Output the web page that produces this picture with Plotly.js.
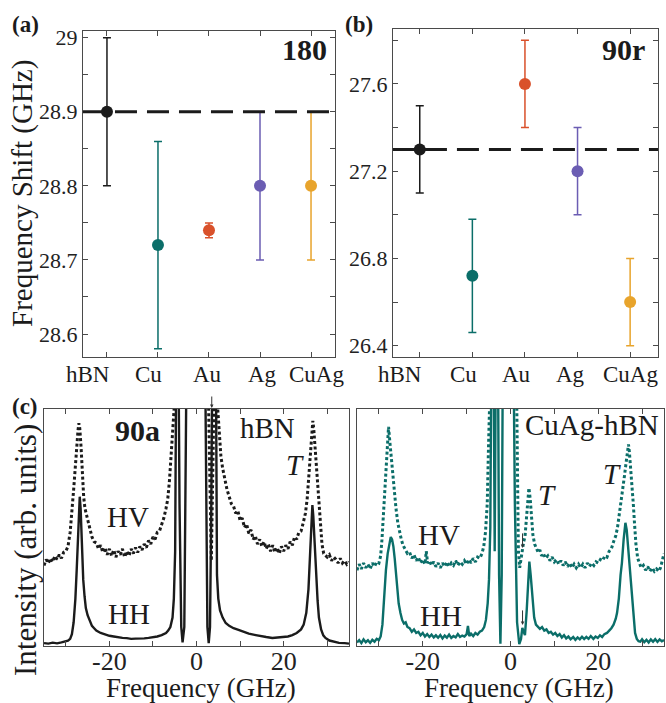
<!DOCTYPE html>
<html>
<head>
<meta charset="utf-8">
<script src="https://cdn.plot.ly/plotly-3.0.1.min.js"></script>
<style>html,body{margin:0;padding:0;background:#fff;}#chart{width:666px;height:703px;}</style>
</head>
<body>
<div id="chart"></div>
<script>
// ---------- data ----------
const categories = ['hBN', 'Cu', 'Au', 'Ag', 'CuAg'];
const shift180 = [28.9, 28.72, 28.74, 28.8, 28.8];
const err180 = [0.1, 0.14, 0.01, 0.1, 0.1];
const shift90r = [27.3, 26.72, 27.6, 27.2, 26.6];
const err90r = [0.2, 0.26, 0.2, 0.2, 0.2];
const ref180 = 28.9;
const ref90r = 27.3;

const freqTickVals = [-30, -20, -10, 0, 10, 20, 30];
const freqTickText = ['', '-20', '', '0', '', '20', ''];

// hBN, 90a geometry, HV polarisation: [frequency GHz, intensity arb.]
const hbnHV = [[-35,34],[-34.5,36.5],[-34,35],[-33.5,37],[-33,35.5],[-32.5,38],[-32,36.5],[-31.5,38.5],[-31,37],[-30.5,39.5],[-30,40],[-29.5,42],[-29,48],[-28.6,56],[-28.2,66],[-27.8,76],[-27.5,85],[-27.2,91],[-27,94],[-26.8,92],[-26.5,84],[-26.2,70],[-25.9,63],[-25.6,58],[-25.2,55],[-24.8,51],[-24.4,48.5],[-24,46],[-23.5,44],[-23,43.5],[-22.5,41],[-22,42.5],[-21.5,39.5],[-21,41.5],[-20.5,38.5],[-20,41],[-19.5,38],[-19,40.5],[-18.5,37.5],[-18,40],[-17.5,38.5],[-17,41],[-16.5,37.5],[-16,40],[-15.5,38],[-15,41],[-14.5,39],[-14,41.5],[-13.5,39.5],[-13,42],[-12.5,40.5],[-12,43],[-11.5,41.5],[-11,44.5],[-10.5,43],[-10,46],[-9.5,45],[-9,48],[-8.5,48.5],[-8,51],[-7.5,54],[-7,58],[-6.6,62],[-6.2,70],[-5.8,80],[-5.4,92],[-5,104],[-4.6,140],[-4.0,140],[-3.6,140],[-3.4,null],
[2.2,null],[2.4,140],[3.0,80],[3.4,36],[3.8,80],[4.3,140],[4.8,102],[5.2,90],[5.6,80],[6,75],[6.5,70],[7,66],[7.5,63],[8,60],[8.5,59],[9,56],[9.5,57],[10,53],[10.5,54],[11,50],[11.5,51.5],[12,47.5],[12.5,49],[13,45],[13.5,46.5],[14,43],[14.5,45],[15,42],[15.5,44],[16,41],[16.5,43],[17,40],[17.5,42.5],[18,39.5],[18.5,41.5],[19,39],[19.5,42],[20,40],[20.5,42.5],[21,41],[21.5,44],[22,42.5],[22.5,46],[23,45],[23.5,48],[24,48.5],[24.5,52],[25,56],[25.4,62],[25.8,72],[26.2,83],[26.5,92],[26.7,95],[26.9,92],[27.2,84],[27.6,72],[28,62],[28.4,52],[28.8,43],[29.2,39],[29.6,38],[30,37.5],[30.5,38.5],[31,36],[31.5,37.5],[32,36.5],[32.5,35],[33,37],[33.5,35],[34,36],[34.5,34.5],[35,35.5]];

// hBN, HH polarisation
const hbnHH = [[-35,1.2],[-34,1.0],[-33,1.4],[-32,1.1],[-31,1.5],[-30,1.8],[-29.5,2.2],[-29,3],[-28.6,5],[-28.2,10],[-27.8,20],[-27.5,32],[-27.2,46],[-27,56],[-26.8,63],[-26.6,58],[-26.4,46],[-26.2,36],[-26,28],[-25.7,21],[-25.4,16],[-25,13],[-24.5,10.5],[-24,8.5],[-23.5,7.5],[-23,6.5],[-22,5.5],[-21,4.8],[-20,4.3],[-19,4],[-18,3.6],[-17,3.4],[-16,3.3],[-15,3.0],[-14,3.1],[-13,3.0],[-12,3.2],[-11,3.4],[-10,3.6],[-9,4],[-8,4.6],[-7,5.5],[-6.5,6.5],[-6,8],[-5.5,12],[-5.2,20],[-4.9,40],[-4.6,140],[-4.2,140],[-3.9,60],[-3.5,8],[-3.2,1.5],[-2.8,8],[-2.5,60],[-2.2,140],[-2.0,null],
[1.7,null],[1.9,140],[2.2,60],[2.5,8],[2.8,1.2],[3.1,8],[3.4,60],[3.7,140],[4.4,140],[4.7,30],[5.0,20],[5.4,15],[6,12],[6.7,9.7],[7.5,8.5],[8.5,7.5],[9.8,6.7],[11,5.8],[12,5.2],[13.6,4.6],[15,4],[16,3.8],[17.4,3.4],[18.5,3.6],[19.5,3.8],[21,4],[22,4.6],[23,5.5],[24,7],[24.6,9],[25.2,14],[25.7,24],[26.1,40],[26.4,54],[26.6,59.5],[26.8,55],[27.1,42],[27.4,30],[27.8,19],[28.1,12],[28.6,7],[29.1,4.5],[29.6,3.4],[30.5,2.3],[31.5,1.8],[32.7,1.3],[34,1.2],[35,1.0]];

// CuAg-hBN, HV polarisation
const cuagHV = [[-35,32],[-34.5,34.5],[-34,32.5],[-33.5,35],[-33,33],[-32.5,34.5],[-32,32.5],[-31.5,35],[-31,33.5],[-30.5,35.5],[-30,35],[-29.6,38],[-29.3,45],[-29,55],[-28.7,66],[-28.4,77],[-28.1,87],[-27.8,92.5],[-27.5,86],[-27.2,80],[-26.9,72],[-26.5,63],[-26.1,58],[-25.7,52],[-25.3,48],[-24.9,45],[-24.5,42.5],[-24,41],[-23.5,39],[-23,39.5],[-22.5,37],[-22,38.5],[-21.5,36],[-21,37.5],[-20.5,35],[-20,36.5],[-19.5,34.5],[-19.2,40],[-18.9,35],[-18.5,36],[-18,34],[-17.5,35.5],[-17,33.5],[-16.5,35],[-16,33],[-15.5,35],[-15,33.5],[-14.5,35.5],[-14,33.5],[-13.5,35],[-13,34],[-12.5,36],[-12,34],[-11.5,35.5],[-11,34.5],[-10.5,36],[-10,34.5],[-9.5,36.5],[-9,35],[-8.5,37],[-8,35.5],[-7.5,37.5],[-7,37],[-6.5,39],[-6.1,42],[-5.7,48],[-5.3,60],[-5.0,85],[-4.7,140],[-4.2,140],[-4.0,null],
[1.0,null],[1.2,140],[1.5,80],[1.8,40],[2.1,33],[2.4,37],[2.7,40],[3.0,44],[3.3,46],[3.6,54],[3.9,62],[4.2,66.7],[4.5,62],[4.8,53],[5.1,47],[5.5,43],[5.9,41],[6.3,39.5],[6.7,40.5],[7.1,38],[7.5,39],[8,37],[8.5,38],[9,36],[9.5,37.5],[10,35.5],[10.5,36.5],[11,34.5],[11.5,36],[12,34],[12.5,35.5],[13,33.5],[13.5,35],[14,33],[14.5,34.5],[15,33],[15.5,34.5],[16,33],[16.5,34.5],[17,33],[17.5,35],[18,33.5],[18.5,35],[19,34],[19.5,35.5],[20,35],[20.5,36.5],[21,36],[21.5,38],[22,37.5],[22.5,40],[23,41],[23.5,44],[24,46.5],[24.4,50],[24.8,55],[25.2,60],[25.6,66],[26,72],[26.4,78],[26.7,83],[26.9,85],[27.1,82],[27.4,75],[27.7,70],[28,60],[28.3,51],[28.6,43],[29,37],[29.4,34.5],[29.8,33],[30.3,34],[30.8,32],[31.3,33.5],[31.8,31.5],[32.3,33],[32.8,31.5],[33.3,32.5],[33.8,31.5],[34.2,33],[34.6,36],[35,39]];

// CuAg-hBN, HH polarisation
const cuagHH = [[-35,1.5],[-34.5,2.5],[-34,1.2],[-33.5,2.8],[-33,1.6],[-32.5,2.4],[-32,1.3],[-31.5,2.6],[-31,1.8],[-30.5,3],[-30,2.5],[-29.6,4],[-29.2,9],[-28.8,21],[-28.4,32],[-28,39],[-27.6,44],[-27.3,46],[-27,45],[-26.7,42],[-26.4,37],[-26.1,31],[-25.8,24],[-25.5,18],[-25.1,14],[-24.7,11],[-24.3,9.5],[-23.9,10],[-23.5,8],[-23,7.5],[-22.5,6],[-22,7],[-21.5,5.5],[-21,6],[-20.5,4.5],[-20,5.5],[-19.5,4],[-19,5],[-18.5,3.8],[-18,4.8],[-17.5,3.6],[-17,4.5],[-16.5,3.5],[-16,4.6],[-15.5,3.2],[-15,4.4],[-14.5,3.5],[-14,4.8],[-13.5,3.4],[-13,4.2],[-12.5,3.6],[-12,5],[-11.5,3.8],[-11,4.4],[-10.5,4],[-10,5],[-9.7,8.5],[-9.4,4.2],[-9,5.2],[-8.5,4.2],[-8,5.5],[-7.5,4.8],[-7,6],[-6.5,6.5],[-6,8],[-5.6,11],[-5.2,18],[-4.9,28],[-4.6,50],[-4.3,140],[-3.9,140],[-3.6,40],[-3.3,140],[-2.9,140],[-2.6,30],[-2.3,1],[-2.0,30],[-1.7,140],[-1.5,null],
[0.4,null],[0.6,140],[1.0,60],[1.5,10],[2.0,0.8],[2.4,3],[2.7,7.6],[3.0,6],[3.3,4.6],[3.7,15],[4.0,27],[4.3,35.6],[4.6,30],[5.0,21],[5.4,12],[5.8,9],[6.3,8],[6.7,7.2],[7.2,8],[7.7,6.5],[8.2,7],[8.7,5.5],[9.2,6],[9.7,4.8],[10.2,5.5],[10.7,4.2],[11.2,5],[11.7,3.6],[12.2,4.6],[12.7,3.2],[13.2,4],[13.7,2.8],[14.3,3.8],[14.8,2.6],[15.3,3.6],[15.8,2.8],[16.3,3.9],[16.8,2.9],[17.3,3.8],[17.8,3],[18.3,4.2],[18.9,3],[19.4,4],[19.9,3.4],[20.4,4.5],[20.9,3.8],[21.4,5],[22,5.5],[22.5,6.5],[23,7.5],[23.5,9],[24,11.5],[24.3,14],[24.7,20],[25.1,30],[25.4,35],[25.8,45],[26.2,52],[26.5,49],[26.9,39],[27.3,30],[27.7,21],[28.1,12],[28.4,5.5],[28.8,3],[29.2,2],[29.6,1.8],[30,2.8],[30.5,1.6],[31,2.6],[31.5,1.5],[32,2.8],[32.5,1.8],[33,2.9],[33.5,1.7],[34,2.8],[34.5,2],[35,2.5]];

// ---------- styles ----------
const catColors = ['#1b1b1b', '#0b6e69', '#d9512b', '#6b5db3', '#e8a42c'];
const teal = '#0b6e69';
const ink = '#1b1b1b';
const frame = '#4a4a4a';
const FONT = 'Liberation Serif, Times New Roman, serif';

const traces = [];
categories.forEach((c, i) => {
  traces.push({
    type: 'scatter', mode: 'markers', x: [c], y: [shift180[i]],
    xaxis: 'x', yaxis: 'y',
    marker: {size: 12, color: catColors[i]},
    error_y: {type: 'data', array: [err180[i]], color: catColors[i], thickness: 1.5, width: 4},
    hoverinfo: 'skip'
  });
  traces.push({
    type: 'scatter', mode: 'markers', x: [c], y: [shift90r[i]],
    xaxis: 'x2', yaxis: 'y2',
    marker: {size: 12, color: catColors[i]},
    error_y: {type: 'data', array: [err90r[i]], color: catColors[i], thickness: 1.5, width: 4},
    hoverinfo: 'skip'
  });
});

function spec(arr, xa, ya, color, dotted) {
  return {
    type: 'scatter', mode: 'lines',
    x: arr.map(p => p[0]), y: arr.map(p => p[1]),
    xaxis: xa, yaxis: ya, connectgaps: false,
    line: {color: color, width: dotted ? 3 : 2.4, dash: dotted ? '3px,2.5px' : 'solid'},
    hoverinfo: 'skip'
  };
}
traces.push(spec(hbnHV, 'x3', 'y3', ink, true));
traces.push(spec(hbnHH, 'x3', 'y3', ink, false));
traces.push(spec(cuagHV, 'x4', 'y4', teal, true));
traces.push(spec(cuagHH, 'x4', 'y4', teal, false));

const baseAxis = {
  showline: true, linecolor: frame, linewidth: 1, mirror: 'ticks',
  ticks: 'inside', ticklen: 5, tickcolor: frame, tickwidth: 1,
  showgrid: false, zeroline: false, fixedrange: true,
  tickfont: {family: FONT, size: 22, color: '#222'}
};
const ax = (o) => Object.assign({}, baseAxis, o);

function txt(text, x, y, size, opts) {
  return Object.assign({
    text: text, x: x, y: y, xref: 'paper', yref: 'paper',
    xanchor: 'center', yanchor: 'middle', showarrow: false,
    font: {family: FONT, size: size, color: '#1b1b1b'}
  }, opts || {});
}
const W = 666, H = 703;
const px = (x) => x / W, py = (y) => 1 - y / H;

// category labels as placed in the original figure (slightly off the ticks)
const labelPxA = [88, 148, 207, 262, 316];
const labelPxB = [400, 463, 516, 570, 630];

const annotations = [
  txt('<b>(a)</b>', px(25), py(25), 23),
  txt('<b>(b)</b>', px(359), py(25), 23),
  txt('<b>(c)</b>', px(25), py(406), 23),
  txt('<b>180</b>', px(304), py(50), 30),
  txt('<b>90r</b>', px(623), py(50), 30),
  txt('<b>90a</b>', px(137), py(430), 30),
  txt('hBN', px(267), py(428), 29),
  txt('<i>T</i>', px(295), py(465), 29),
  txt('HV', px(128), py(517), 29),
  txt('HH', px(129), py(614), 29),
  txt('CuAg-hBN', px(592), py(425), 29),
  txt('<i>T</i>', px(547), py(495), 29),
  txt('<i>T</i>', px(612), py(474), 29),
  txt('HV', px(439), py(535), 29),
  txt('HH', px(441), py(616), 29),
  txt('Frequency Shift (GHz)', px(23), py(194), 29, {textangle: -90}),
  txt('Intensity (arb. units)', px(25), py(550), 31, {textangle: -90}),
  txt('Frequency (GHz)', px(201), py(688), 27),
  txt('Frequency (GHz)', px(519), py(688), 27),
  {x: 3.5, y: py(408), xref: 'x3', yref: 'paper', text: '', showarrow: true,
   ax: 0, ay: -13, arrowhead: 2, arrowsize: 0.7, arrowwidth: 1, arrowcolor: '#333'},
  {x: 2.75, y: 41.4, xref: 'x4', yref: 'y4', text: '', showarrow: true,
   ax: 0, ay: -16, arrowhead: 2, arrowsize: 0.7, arrowwidth: 1, arrowcolor: '#333'},
  {x: 2.75, y: 8.9, xref: 'x4', yref: 'y4', text: '', showarrow: true,
   ax: 0, ay: -16, arrowhead: 2, arrowsize: 0.7, arrowwidth: 1, arrowcolor: '#333'}
];
categories.forEach((c, i) => {
  annotations.push(txt(c, px(labelPxA[i]), py(374), 23));
  annotations.push(txt(c, px(labelPxB[i]), py(374), 23));
});

const layout = {
  width: W, height: H,
  margin: {l: 0, r: 0, t: 0, b: 0},
  paper_bgcolor: '#ffffff', plot_bgcolor: '#ffffff',
  showlegend: false,
  font: {family: FONT, color: '#222'},
  xaxis: ax({domain: [0.1246, 0.503], anchor: 'y', type: 'category', range: [-0.47, 4.47],
    showticklabels: false}),
  yaxis: ax({domain: [0.4922, 0.9559], anchor: 'x', range: [28.569, 29.009], dtick: 0.1, tick0: 28.6,
    minor: {dtick: 0.05, ticks: 'inside', ticklen: 5, tickcolor: frame}}),
  xaxis2: ax({domain: [0.590, 0.988], anchor: 'y2', type: 'category', range: [-0.51, 4.53],
    showticklabels: false}),
  yaxis2: ax({domain: [0.4922, 0.9587], anchor: 'x2', range: [26.348, 27.852], dtick: 0.4, tick0: 26.4,
    minor: {dtick: 0.2, ticks: 'inside', ticklen: 5, tickcolor: frame}}),
  xaxis3: ax({domain: [0.0661, 0.524], anchor: 'y3', range: [-35, 35],
    tickmode: 'array', tickvals: freqTickVals, ticktext: freqTickText, ticklabelstandoff: -8,
    tickfont: {family: FONT, size: 26, color: '#222'}}),
  yaxis3: ax({domain: [0.0811, 0.4182], anchor: 'x3', range: [0, 100], showticklabels: false, ticks: ''}),
  xaxis4: ax({domain: [0.536, 0.997], anchor: 'y4', range: [-35, 35],
    tickmode: 'array', tickvals: freqTickVals, ticktext: freqTickText, ticklabelstandoff: -8,
    tickfont: {family: FONT, size: 26, color: '#222'}}),
  yaxis4: ax({domain: [0.0811, 0.4182], anchor: 'x4', range: [0, 100], showticklabels: false, ticks: ''}),
  shapes: [
    {type: 'line', xref: 'x domain', yref: 'y', x0: 0, x1: 1, y0: ref180, y1: ref180,
     line: {color: ink, width: 3, dash: '22px,10px'}},
    {type: 'line', xref: 'x2 domain', yref: 'y2', x0: 0, x1: 1, y0: ref90r, y1: ref90r,
     line: {color: ink, width: 3, dash: '22px,10px'}}
  ],
  annotations: annotations
};

Plotly.newPlot('chart', traces, layout, {staticPlot: true, displayModeBar: false});
</script>
</body>
</html>
